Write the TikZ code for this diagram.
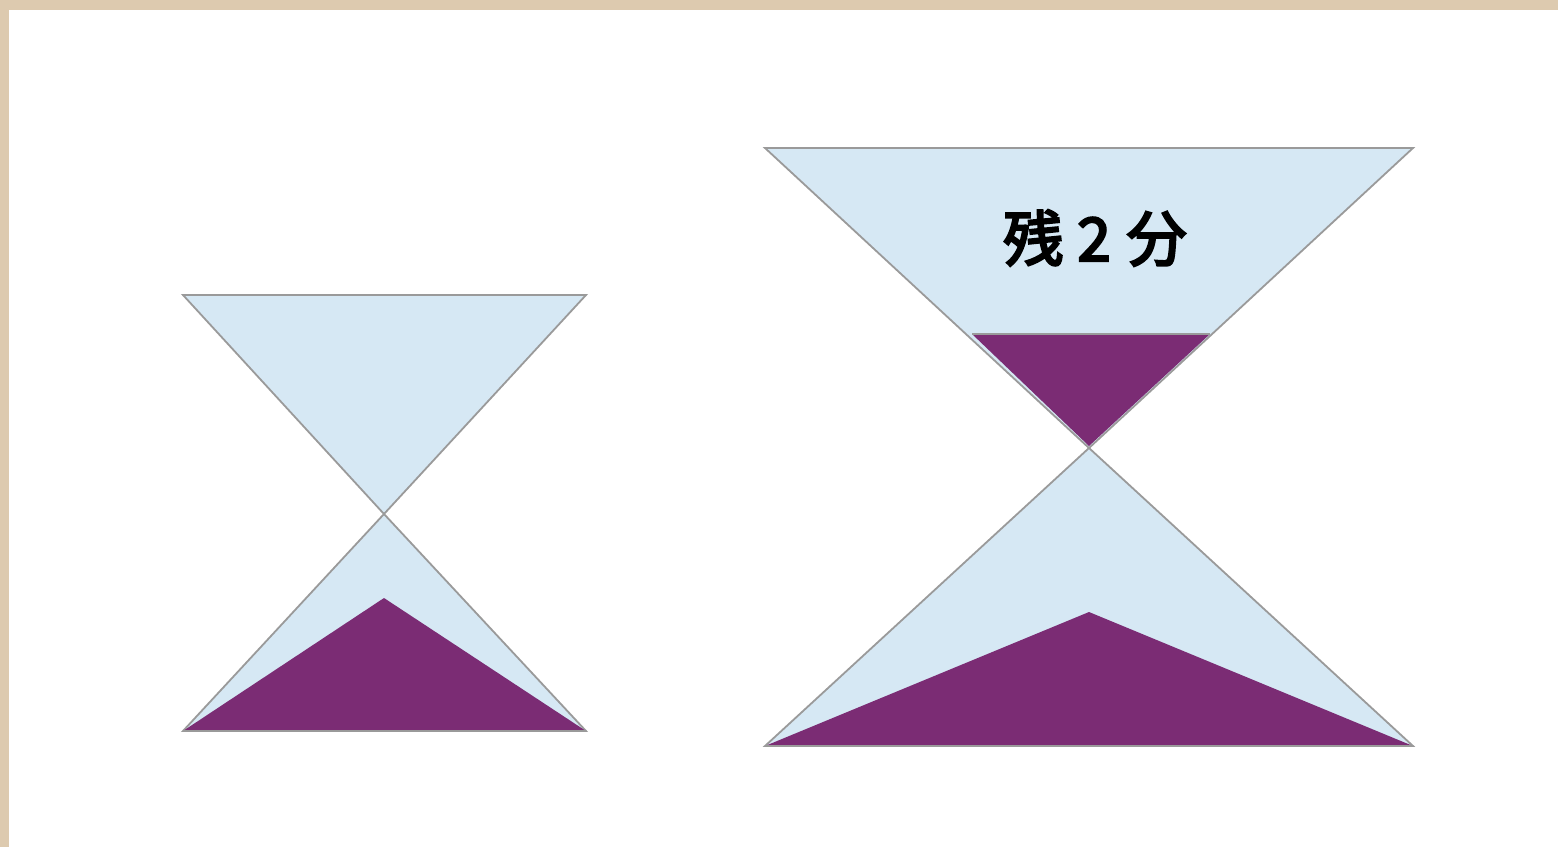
\documentclass[tikz,border=0pt]{standalone}
\usepackage{fontspec}
\newfontfamily\cjk{Noto Sans CJK JP}[FakeBold=4]
\definecolor{beige}{HTML}{DDCAAF}
\definecolor{glass}{HTML}{D6E8F4}
\definecolor{sand}{HTML}{7B2C74}
\definecolor{edge}{HTML}{9A9A9A}
\tikzset{glassfill/.style={fill=glass,draw=edge,line width=1.8pt,line join=miter},
  sandfill/.style={fill=sand,draw=none}}
\begin{document}
\begin{tikzpicture}[x=1pt,y=-1pt]
\useasboundingbox (0,0) rectangle (1558,847);
\fill[beige] (0,0) rectangle (1558,847);
\fill[white] (9,10) rectangle (1558,847);
% left hourglass
\draw[glassfill] (183,295) -- (586,295) -- (384,514) -- cycle;
\draw[glassfill] (384,514) -- (586,731) -- (183,731) -- cycle;
\fill[sandfill] (384,598) -- (586,731) -- (183,731) -- cycle;
\draw[edge,line width=1.8pt] (183,731) -- (586,731);
% right hourglass
\draw[glassfill] (765,148) -- (1413,148) -- (1089,448) -- cycle;
\draw[glassfill] (1089,448) -- (1413,746) -- (765,746) -- cycle;
\fill[sandfill] (972,334) -- (1210,334) -- (1089,446) -- cycle;
\draw[edge,line width=1.4pt] (972,334) -- (1210,334);
\fill[sandfill] (1089,612) -- (1413,746) -- (765,746) -- cycle;
\draw[edge,line width=1.8pt] (765,746) -- (1413,746);
\node[font=\cjk\fontsize{60}{66}\selectfont, inner sep=0pt] (label) at (1095,238) {残\hspace{14pt}2\hspace{16pt}分};
\end{tikzpicture}
\end{document}
